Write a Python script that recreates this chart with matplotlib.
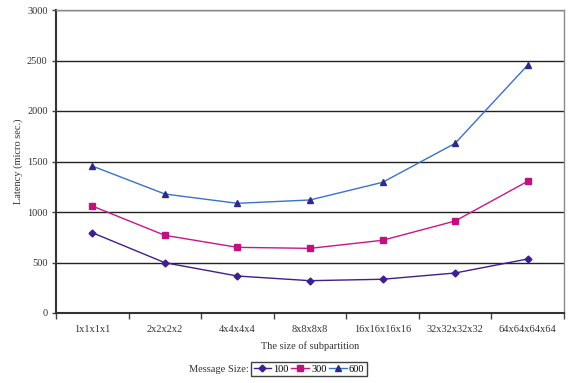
import matplotlib
matplotlib.use("Agg")
import matplotlib.pyplot as plt
import numpy as np

categories = ["1x1x1x1", "2x2x2x2", "4x4x4x4", "8x8x8x8",
              "16x16x16x16", "32x32x32x32", "64x64x64x64"]
latency_100 = [795, 498, 366, 320, 334, 396, 535]
latency_300 = [1059, 769, 650, 640, 720, 911, 1304]
latency_600 = [1455, 1178, 1086, 1119, 1294, 1680, 2455]
yticks = [0, 500, 1000, 1500, 2000, 2500, 3000]

plt.rcParams["font.family"] = ["Liberation Serif", "DejaVu Serif"]
FS = 7.5
TXT = "#333333"

fig = plt.figure(figsize=(5.7, 3.83), dpi=100)
ax = fig.add_axes([56 / 570, 1 - 313 / 383, (564 - 56) / 570, (313 - 10) / 383])

x = np.arange(len(categories))
l1, = ax.plot(x, latency_100, color="#3d1f8f", lw=1.0, marker="D", ms=3.5,
              mfc="#3d1f8f", mec="#3d1f8f", label="100")
l2, = ax.plot(x, latency_300, color="#c8168a", lw=1.0, marker="s", ms=4.5,
              mfc="#c0127f", mec="#c0127f", label="300")
l3, = ax.plot(x, latency_600, color="#3a72c8", lw=1.0, marker="^", ms=5,
              mfc="#2e2a8a", mec="#2e2a8a", label="600")

ax.set_xlim(-0.5, len(categories) - 0.5)
ax.set_ylim(0, 3000)
ax.set_yticks(yticks)
ax.set_yticklabels([str(v) for v in yticks], fontsize=FS, color=TXT)
ax.yaxis.grid(True, color="#222222", lw=1.0)
ax.set_axisbelow(True)

ax.set_xticks(x)
ax.set_xticklabels(categories, fontsize=FS, color=TXT)
ax.set_xticks(np.arange(-0.5, len(categories)), minor=True)
ax.tick_params(axis="x", which="major", length=0, pad=9)
ax.tick_params(axis="x", which="minor", length=4, width=1, color="#444444", direction="out")
ax.tick_params(axis="y", length=3, width=1, color="#444444", direction="out", pad=3)

for side in ("left", "bottom"):
    ax.spines[side].set_color("#333333")
    ax.spines[side].set_linewidth(1.5)
for side in ("top", "right"):
    ax.spines[side].set_color("#8a8a8a")
    ax.spines[side].set_linewidth(1.0)

ax.set_xlabel("The size of subpartition", fontsize=FS, labelpad=5, color=TXT)
ax.set_ylabel("Latency (micro sec.)", fontsize=FS, color=TXT, va="center")
ax.yaxis.set_label_coords(-38 / 508, 0.5)

fig.text(249 / 570, 1 - 369 / 383, "Message Size:", ha="right", va="center",
         fontsize=FS, color=TXT)
leg = fig.legend(handles=[l1, l2, l3], loc="center left",
                 bbox_to_anchor=(251 / 570, 1 - 369 / 383), ncol=3,
                 fontsize=FS, frameon=True, fancybox=False, edgecolor="#111111",
                 handlelength=1.7, handletextpad=0.2, columnspacing=0.25,
                 borderpad=0.25, borderaxespad=0)
leg.get_frame().set_linewidth(1.0)

fig.savefig("out.png", dpi=100)
